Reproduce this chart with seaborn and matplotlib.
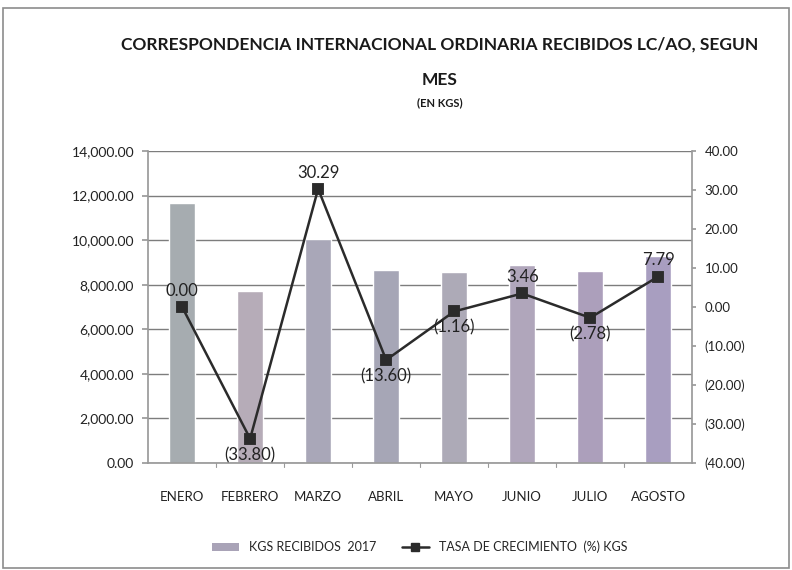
import numpy as np
import pandas as pd
import matplotlib.pyplot as plt
import seaborn as sns
from matplotlib import font_manager
from matplotlib.lines import Line2D
from matplotlib.patches import Patch, Rectangle

# data
meses = ['ENERO', 'FEBRERO', 'MARZO', 'ABRIL', 'MAYO', 'JUNIO', 'JULIO', 'AGOSTO']
kgs_2017 = [11650, 7710, 10050, 8680, 8580, 8880, 8630, 9300]
tasa = [0.00, -33.80, 30.29, -13.60, -1.16, 3.46, -2.78, 7.79]
tasa_txt = ['0.00', '(33.80)', '30.29', '(13.60)', '(1.16)', '3.46', '(2.78)', '7.79']

df = pd.DataFrame({'mes': meses, 'kgs': kgs_2017, 'tasa': tasa})

# bar tints as they look on the scanned page
bar_colors = ['#a6acb0', '#b6acb8', '#a9a7b8', '#a6a6b6',
              '#adaab7', '#b0a6bb', '#ac9fbb', '#a89ec0']

sns.set_theme(style='white')
# pick a narrow face if one is there (Calibri-like look)
installed = {f.name for f in font_manager.fontManager.ttflist}
narrow = [n for n in ['Liberation Sans Narrow', 'DejaVu Sans Condensed', 'Lato']
          if n in installed]
FAM = narrow[:1] + ['DejaVu Sans']
plt.rcParams['font.family'] = FAM

fig = plt.figure(figsize=(7.92, 5.70), dpi=100)
ax = fig.add_axes([0.187, 0.188, 0.687, 0.547])

# =========================
# BARS
# =========================
sns.barplot(data=df, x='mes', y='kgs', hue='mes', palette=bar_colors,
            legend=False, ax=ax, width=0.39, saturation=1)
ax.set_ylim(0, 14000)
ax.set_yticks(np.arange(0, 14001, 2000))
ax.set_yticklabels([f'{v:,.2f}' for v in np.arange(0, 14001, 2000)],
                   fontsize=10, color='#222222')
ax.yaxis.grid(True, color='#7d7d7d', linewidth=1.0)
ax.set_axisbelow(True)
ax.set_xlabel('')
ax.set_ylabel('')
ax.tick_params(axis='x', labelsize=9.5, colors='#222222', pad=20, length=0)
ax.tick_params(axis='y', length=4, color='#9a9a9a', pad=6)
ax.set_xlim(-0.5, len(meses) - 0.5)

for s in ['top', 'right']:
    ax.spines[s].set_visible(False)
ax.spines['left'].set_color('#9a9a9a')
ax.spines['bottom'].set_color('#9a9a9a')

# tick marks between categories
for b in np.arange(0.5, len(meses) - 0.5, 1):
    ax.plot([b, b], [0, -180], color='#9a9a9a', lw=0.8, clip_on=False)

# =========================
# LINE (secondary axis)
# =========================
ax2 = ax.twinx()
sns.pointplot(data=df, x='mes', y='tasa', ax=ax2, color='#2b2b2b',
              markers='s', markersize=7, linewidth=1.8, errorbar=None)
ax2.set_ylim(-40, 40)
ax2.set_yticks(np.arange(-40, 41, 10))
ax2.set_yticklabels([f'({abs(v):.2f})' if v < 0 else f'{v:.2f}'
                     for v in np.arange(-40, 41, 10)],
                    fontsize=9.5, color='#222222')
ax2.set_ylabel('')
ax2.set_xlabel('')
ax2.set_xlim(-0.5, len(meses) - 0.5)
ax2.tick_params(axis='y', length=3, color='#9a9a9a', pad=6)
for s in ['top', 'left', 'bottom']:
    ax2.spines[s].set_visible(False)
ax2.spines['right'].set_color('#9a9a9a')

offsets = [6, -6, 6, -6, -6, 6, -6, 6]
for i, (v, t, o) in enumerate(zip(tasa, tasa_txt, offsets)):
    ax2.annotate(t, (i, v), xytext=(0, o), textcoords='offset points',
                 ha='center', va='bottom' if o > 0 else 'top',
                 fontsize=12, color='#222222')

# =========================
# TITLE + LEGEND
# =========================
title_size = 14 if narrow and narrow[0] != 'Lato' else 12.5
fig.text(0.555, 0.922, 'CORRESPONDENCIA INTERNACIONAL ORDINARIA RECIBIDOS LC/AO, SEGUN',
         ha='center', va='center', fontsize=title_size, fontweight='bold',
         color='#1a1a1a')
fig.text(0.555, 0.86, 'MES', ha='center', va='center', fontsize=title_size,
         fontweight='bold', color='#1a1a1a')
fig.text(0.555, 0.82, '(EN KGS)', ha='center', va='center', fontsize=8,
         fontweight='bold', color='#1a1a1a')

handles = [Patch(facecolor='#a9a3b7', edgecolor='none', label='KGS RECIBIDOS  2017'),
           Line2D([0], [0], color='#2b2b2b', marker='s', markersize=6, lw=1.8,
                  label='TASA DE CRECIMIENTO  (%) KGS')]
fig.legend(handles=handles, loc='center', bbox_to_anchor=(0.53, 0.04), ncol=2,
           frameon=False, fontsize=9, handlelength=2.2, columnspacing=2.0)

fig.patches.append(Rectangle((0.004, 0.004), 0.992, 0.982, transform=fig.transFigure,
                             fill=False, edgecolor='#8c8c8c', linewidth=1.2))

plt.savefig('out.png', dpi=100)
